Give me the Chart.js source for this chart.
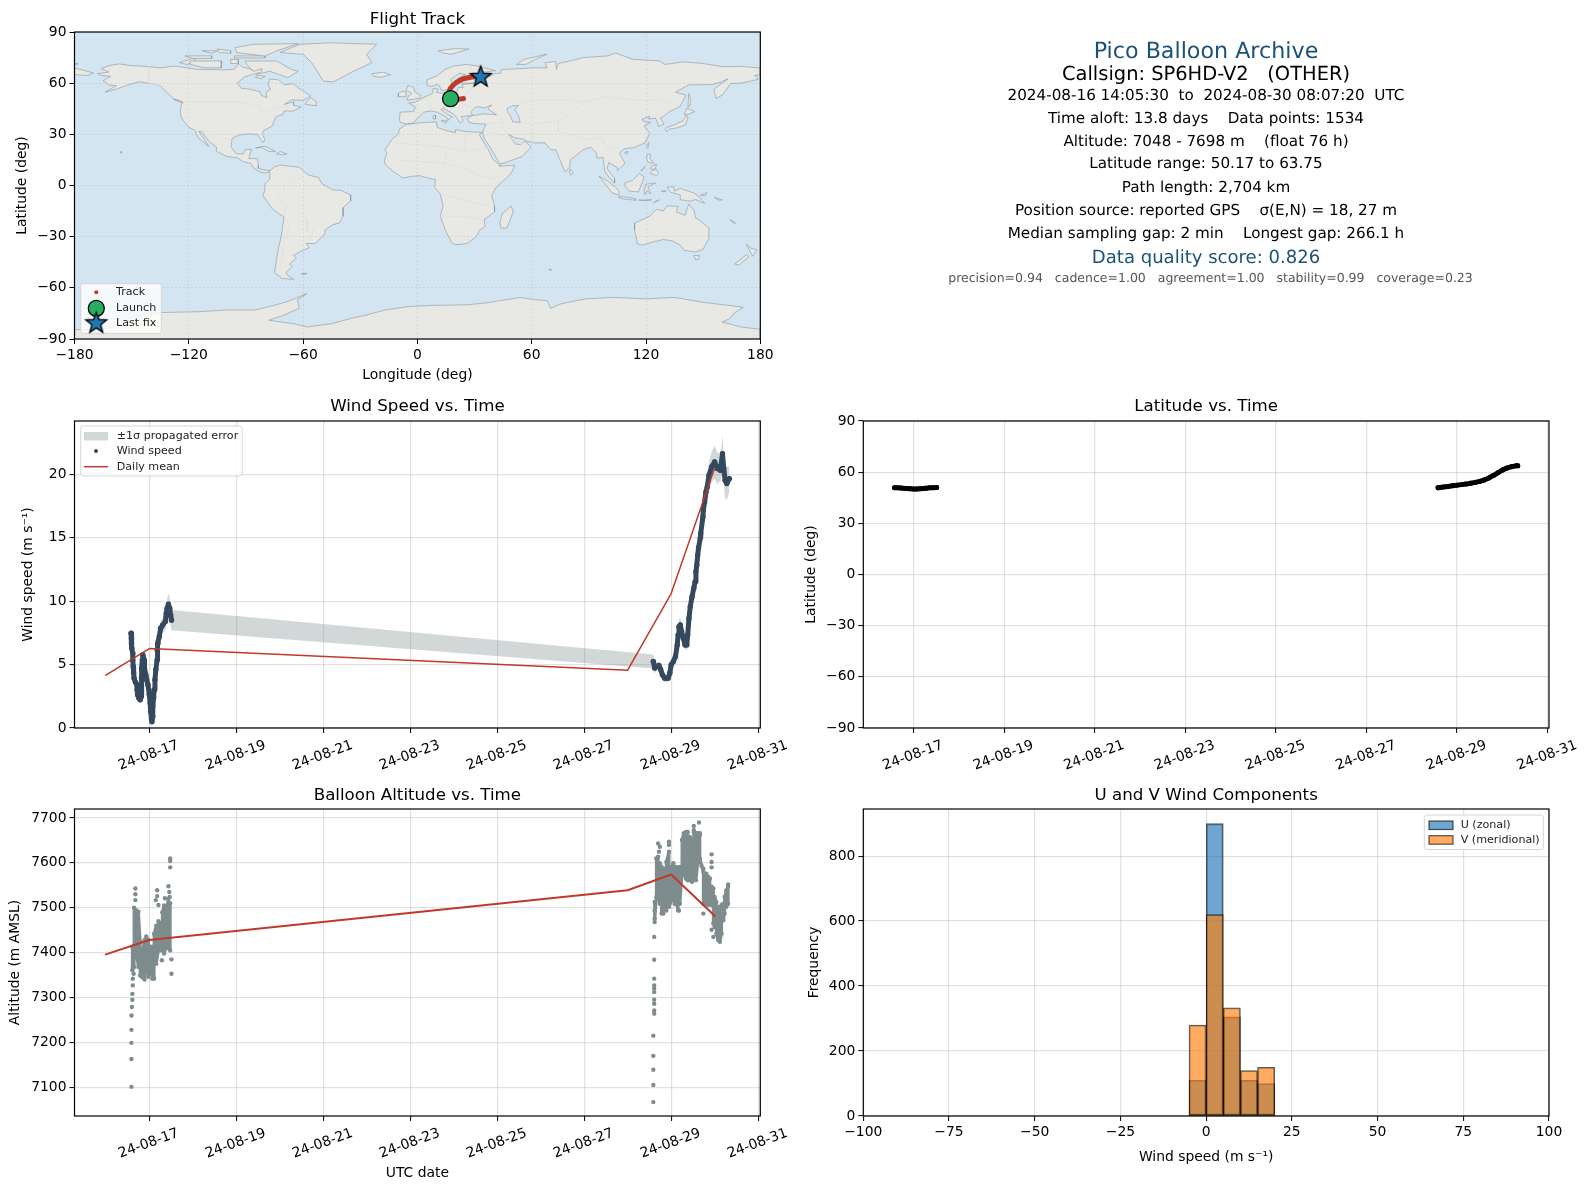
<!DOCTYPE html>
<html>
<head>
<meta charset="utf-8">
<title>Pico Balloon Archive</title>
<script src="https://cdn.jsdelivr.net/npm/chart.js@4/dist/chart.umd.js"></script>
<style>
html, body { margin: 0; padding: 0; background: #fff; }
body { width: 1589px; height: 1189px; position: relative; overflow: hidden; font-family: "DejaVu Sans", sans-serif; }
canvas { position: absolute; }
.line { position: absolute; left: 790px; width: 832px; text-align: center; white-space: pre; line-height: 24px; height: 24px; color: #000; text-rendering: geometricPrecision; }
</style>
</head>
<body>
<script>
// time axis is days of August 2024, 17 = 24-08-17 00:00
var dateTicks = [17, 19, 21, 23, 25, 27, 29, 31];
var lonTicks = [-180, -120, -60, 0, 60, 120, 180];
var latTicks = [-90, -60, -30, 0, 30, 60, 90];
var speedTicks = [0, 5, 10, 15, 20];
var altTicks = [7100, 7200, 7300, 7400, 7500, 7600, 7700];
var histXTicks = [-100, -75, -50, -25, 0, 25, 50, 75, 100];
var histYTicks = [0, 200, 400, 600, 800];

var meanDays = [16, 17, 28, 29, 30];
var meanSpeed = [4.17, 6.26, 4.56, 10.6, 20.5];
var meanAlt = [7396, 7428, 7539, 7574, 7482];

var windDaysA = [16.58,16.59,16.59,16.60,16.62,16.62,16.63,16.64,16.65,16.68,
    16.71,16.72,16.73,16.76,16.79,16.81,16.82,16.82,16.83,16.84,
    16.85,16.88,16.89,16.92,16.94,16.97,17.00,17.02,17.03,17.05,
    17.06,17.08,17.08,17.10,17.11,17.13,17.15,17.18,17.18,17.20,
    17.23,17.26,17.31,17.37,17.39,17.41,17.44,17.47,17.49,17.51];
var windSpeedA = [7.47,7.08,6.68,6.29,5.90,5.37,4.85,4.33,3.93,3.62,
    3.46,3.01,2.62,2.36,2.23,2.49,3.28,3.93,4.72,5.37,
    5.77,5.37,4.72,4.19,3.80,3.41,2.62,1.97,1.31,0.75,
    0.50,0.92,1.70,2.36,3.01,3.80,4.59,5.37,6.16,6.68,
    7.21,7.86,8.13,8.39,9.04,9.44,9.75,9.44,8.91,8.50];
var windSigmaA = [0.80,0.70,0.50,0.40,0.40,0.35,0.35,0.30,0.30,0.30,
    0.30,0.30,0.30,0.30,0.30,0.30,0.30,0.30,0.35,0.40,
    0.40,0.35,0.35,0.30,0.30,0.30,0.30,0.35,0.40,0.40,
    0.40,0.40,0.40,0.40,0.35,0.30,0.30,0.35,0.40,0.45,
    0.55,0.50,0.60,0.70,0.70,0.75,0.85,0.80,0.80,0.80];
var windDaysB = [28.59,28.62,28.66,28.72,28.76,28.80,28.85,28.93,28.97,29.00,
    29.05,29.10,29.14,29.16,29.18,29.21,29.24,29.28,29.32,29.36,
    29.38,29.41,29.44,29.48,29.52,29.55,29.57,29.59,29.61,29.63,
    29.67,29.68,29.73,29.74,29.77,29.80,29.83,29.87,29.93,30.00,
    30.06,30.10,30.13,30.18,30.21,30.24,30.28,30.34];
var windSpeedB = [5.24,4.72,4.85,4.93,4.59,4.19,3.93,3.93,4.33,4.98,
    5.24,5.64,6.55,7.34,7.99,8.13,7.60,7.08,6.55,6.55,
    7.34,8.65,9.57,10.35,11.01,11.53,12.32,12.84,13.63,14.21,
    14.99,15.33,16.64,17.17,17.82,18.61,19.00,19.92,20.58,20.97,
    20.45,20.58,20.31,21.62,20.45,19.53,19.27,19.66];
var windSigmaB = [0.55,0.40,0.35,0.30,0.30,0.30,0.30,0.30,0.30,0.30,
    0.30,0.35,0.40,0.50,0.60,0.60,0.50,0.40,0.40,0.40,
    0.40,0.45,0.45,0.45,0.45,0.50,0.50,0.55,0.55,0.60,
    0.65,0.65,0.70,0.75,0.80,0.85,0.90,1.00,1.20,1.30,
    1.30,1.10,1.00,1.40,1.20,1.40,1.30,1.00];

var latDaysA = [16.58,16.65,16.72,16.79,16.86,16.93,17.00,17.07,17.14,17.21,17.28,17.35,17.42,17.51];
var latValsA = [50.9,50.8,50.7,50.5,50.4,50.3,50.2,50.2,50.3,50.4,50.6,50.8,50.9,51.0];
var latDaysB = [28.58,28.7,28.8,28.9,29.0,29.1,29.2,29.3,29.4,29.5,29.6,29.7,29.8,29.9,30.0,30.1,30.2,30.3,30.34];
var latValsB = [50.9,51.3,51.6,52.0,52.4,52.7,53.0,53.5,54.0,54.6,55.4,56.6,58.0,59.6,61.2,62.4,63.2,63.7,63.75];

// altitude fixes in time order, dense part of each day
var altDaysA = [16.61,16.61,16.65,16.65,16.70,16.70,16.75,16.75,16.79,16.79,
    16.84,16.84,16.89,16.89,16.93,16.93,16.98,16.98,17.02,17.02,
    17.07,17.07,17.11,17.11,17.16,17.16,17.21,17.21,17.25,17.25,
    17.30,17.30,17.34,17.34,17.39,17.39,17.44,17.44,17.48,17.48];
var altValsA = [7413,7361,7368,7500,7494,7398,7368,7491,7424,7349,
    7345,7398,7428,7340,7368,7436,7428,7346,7353,7413,
    7413,7342,7342,7442,7460,7375,7405,7470,7465,7405,
    7405,7490,7505,7398,7413,7495,7520,7410,7405,7510];
var altDaysB = [28.62,28.62,28.66,28.66,28.70,28.70,28.74,28.74,28.78,28.78,
    28.82,28.82,28.85,28.85,28.89,28.89,28.95,28.95,29.01,29.01,
    29.05,29.05,29.08,29.08,29.12,29.12,29.16,29.16,29.20,29.20,
    29.25,29.25,29.29,29.29,29.34,29.34,29.38,29.38,29.43,29.43,
    29.48,29.48,29.52,29.52,29.57,29.57,29.61,29.61,29.66,29.66,
    29.74,29.74,29.77,29.77,29.81,29.81,29.85,29.85,29.89,29.89,
    29.93,29.93,29.97,29.97,30.00,30.00,30.04,30.04,30.08,30.08,
    30.12,30.12,30.16,30.16,30.20,30.20,30.23,30.23,30.27,30.27,
    30.31,30.31];
var altValsB = [7513,7468,7524,7610,7614,7524,7509,7599,7591,7487,
    7487,7584,7587,7502,7494,7602,7625,7502,7517,7591,
    7599,7532,7509,7584,7591,7509,7494,7584,7591,7509,
    7576,7651,7666,7576,7565,7669,7669,7561,7561,7658,
    7651,7558,7569,7673,7666,7561,7599,7666,7662,7610,
    7580,7509,7524,7576,7576,7509,7506,7569,7565,7513,
    7506,7547,7543,7465,7457,7524,7513,7442,7428,7502,
    7502,7424,7442,7506,7509,7472,7487,7524,7539,7502,
    7509,7547];
// scattered fixes around the dense part
var altOutDays = [16.59,16.59,16.59,16.59,16.59,16.60,16.61,16.61,16.62,16.62,16.64,16.68,16.68,16.68,
    17.48,17.48,17.48,17.51,17.51,17.44,17.18,17.18,17.15,17.21,17.29,17.36,17.46,17.47,
    28.61,28.61,28.61,28.61,28.61,28.61,28.61,28.61,28.61,28.61,28.59,28.59,28.59,28.59,28.59,28.62,28.62,
    29.64,29.52,29.52,29.66,29.93,29.93,29.93,28.70,28.74,28.72,28.95,28.95,29.74,29.97,30.31,29.93,29.18,29.70,29.74];
var altOutVals = [7228,7199,7163,7101,7260,7279,7295,7308,7327,7342,7353,7543,7530,7517,
    7610,7604,7590,7385,7353,7548,7539,7526,7517,7506,7383,7521,7535,7524,
    7435,7384,7342,7327,7320,7312,7295,7286,7271,7264,7215,7170,7139,7105,7067,7476,7494,
    7690,7682,7669,7666,7619,7602,7590,7643,7636,7625,7647,7640,7487,7435,7552,7451,7494,7593,7587];

var binCentres = [-2.5, 2.5, 7.5, 12.5, 17.5];
var uCounts = [110, 900, 305, 110, 100];
var vCounts = [280, 620, 333, 140, 150];

var trackLonA = [17.4, 19, 21, 23, 24.2];
var trackLatA = [50.9, 50.5, 50.5, 50.8, 51];
var trackLonB = [15.5, 15.8, 16.5, 17.2, 18.5, 20, 22, 24.2, 26.5, 28.6, 31, 33.2];
var trackLatB = [51, 52.5, 54.5, 56.7, 58.5, 60, 61.5, 62.6, 63.2, 63.6, 63.7, 63.75];
var launchFix = [17.4, 50.9];
var lastFix = [33.2, 63.6];

var northAmerica = [[-156.6,71.3],[-151,70.4],[-141,69.7],[-135,69],[-128,70],[-124,69.5],[-115,68],[-108,68],[-102,67.8],[-96,68.2],[-94,71.5],[-92,69.5],[-88,68.5],[-86,67],[-81.5,68.5],[-82,66.5],[-87,65],[-91,63.5],[-94.5,60],[-92.5,57],[-88,56.5],[-82.5,55],[-82,52.9],[-79,51.5],[-79.5,54.5],[-77,56.5],[-78.5,59],[-77.5,62.4],[-73,62],[-69.5,59],[-65.5,59.8],[-61.5,56.5],[-56,52.5],[-60,50],[-66,50.2],[-70,47.5],[-65,49],[-65,47],[-61,46],[-65.5,43.6],[-70,43.7],[-70.5,41.7],[-74,40.5],[-75.5,37.5],[-76,35],[-81,32],[-81.3,30],[-80,26.8],[-81,25.2],[-82.8,28],[-84,30],[-89,30.3],[-94,29.5],[-97.3,27.5],[-97.8,22.5],[-95,18.5],[-91.5,18.5],[-90.5,21],[-87,21.3],[-88.3,17],[-88.5,15.8],[-84,15.8],[-83.5,12],[-83.5,10],[-80,9],[-77.5,8.7],[-78.2,7.7],[-80.4,7.3],[-83,8.2],[-85.7,10],[-87.5,13],[-91.5,14],[-94.5,16.2],[-100,17],[-105.5,20],[-105.5,22.5],[-109.5,26],[-113,31.2],[-114.8,31.8],[-112.5,28],[-109.5,23],[-112,25],[-115,28],[-117,32.5],[-120.5,34.5],[-124,40],[-124.5,43],[-124,47],[-123,49],[-128,51],[-132,55],[-135,58.5],[-140,59.8],[-146,60.8],[-152,59],[-158,56.5],[-164,54.7],[-158,58.5],[-162,59],[-165,61.5],[-161,64],[-166,64.5],[-168,65.5],[-162,66.5],[-166,68.5],[-162,70.2],[-156.6,71.3]];
var southAmerica = [[-77.5,8.6],[-75,11],[-72,12],[-68,11.5],[-62,10.7],[-60,8.5],[-57,6],[-52,4.8],[-50,1],[-44.5,-2.5],[-40,-2.9],[-35.2,-5.5],[-35,-9],[-39,-13],[-39,-18],[-41,-22],[-44.5,-23],[-48.5,-26],[-48.7,-28.5],[-53.5,-34],[-58.4,-34],[-56.8,-36.5],[-62,-39],[-65,-41],[-63.5,-42.5],[-67,-46],[-65.7,-47.5],[-69,-51],[-68.3,-52.5],[-65,-55],[-71,-54.5],[-75,-51],[-74,-44],[-73,-37],[-71.5,-30],[-70,-18.5],[-76,-14],[-81,-6],[-80,-2.5],[-80,1],[-77.5,3.5],[-77.5,8.6]];
var africa = [[-6,35.8],[3,36.9],[10,37.3],[10.5,34],[15,32.3],[20,31],[20,32.8],[25,31.7],[32,31.2],[34.3,31.2],[32.5,29.8],[35.5,24],[37.3,21],[39.5,15.5],[43.3,12],[43.3,11.3],[51.2,11.9],[49,6.8],[41,-1.5],[39,-6],[40.5,-12],[40.5,-15.5],[35,-20],[35.5,-24],[32.8,-26],[31,-30],[26,-34],[20,-34.8],[18.3,-33.8],[15,-27],[12,-18],[13.5,-12],[12,-5],[9,-1],[9.5,3.5],[6,4.3],[1,5.8],[-4,5.2],[-7.7,4.4],[-13,8.5],[-17,12.5],[-17.3,14.7],[-16,19],[-17,21],[-13,27.5],[-10,30],[-9.5,33],[-6,35.8]];
var eurasia = [[-9,37],[-9.5,38.8],[-9,43],[-2,43.4],[-1,46],[-4.5,48.4],[-1.5,48.7],[1.5,50.5],[4,52],[8,54],[8.3,57],[10.8,56.5],[10,54.5],[14,54],[19,54.5],[21,55.5],[21.5,57.5],[24,57.3],[23.5,59.2],[30,60],[23,60],[21.5,61],[21.5,63],[25.3,65],[22,65.8],[17.5,62.3],[18,60],[16.5,56.5],[14.5,56],[12.8,55.5],[11.5,58.5],[10.5,59.3],[7,58],[5,59],[5,62],[10,64],[14.5,68],[19,70],[25.5,71],[31,70.2],[41,67.3],[35,66.5],[33,66.7],[34.8,64.5],[38,64],[40.5,65.5],[44,66],[44,68],[54,68.5],[60,69],[68,69],[67,72],[72.5,72.8],[73,68],[74,71.5],[80,73],[87,75],[100,76],[104,77.7],[113,74],[127,73],[130,71],[140,72.5],[150,71.5],[160,69.7],[170,69.8],[180,68.9],[180,65],[177,64.5],[179,62.3],[170,60],[164.5,59.8],[162,56],[160,53],[156.8,51],[155.6,56.5],[163,62.5],[160,61],[155,59.2],[142.5,59],[135.5,54.7],[141,53],[138,46.5],[132,43],[129.5,40.8],[127.5,39.5],[129.4,36],[126.5,34.5],[126,37],[125,39.5],[121.5,39],[122,40.6],[118,39],[119,37.3],[122.5,37],[119,35],[122,30.5],[119.5,25],[114,22.3],[108.5,21.5],[106,19],[109,13],[105,8.7],[105,10.5],[100.5,13.5],[99.5,10],[103.5,4],[103.5,1.4],[100.5,5],[98.3,8.5],[97.5,16.5],[94.3,16],[94,19],[91,22.5],[87,21],[80.3,15],[80,11],[77.5,8],[73,20],[72.5,21],[70,21],[67,25],[61.5,25],[57,26],[56.3,27],[51,28],[48,30],[51,25],[51.5,24.3],[54,24],[56.5,26],[59.7,22.5],[55,17],[45,13],[43.2,12.7],[39,21],[34.8,28],[34.9,29.5],[34,31],[36,36],[30,36.3],[27,37],[26.3,39.5],[29,41],[35,42],[41.5,41.5],[37,45],[39,47.2],[35,45.5],[33,46],[30.5,46],[28,43],[29,41.2],[26,40.8],[23,40.5],[24,38],[22.5,36.5],[19.5,41.5],[13.5,45.5],[12.3,44.5],[16,41.5],[18.5,40.2],[16.5,39],[16,38],[15.5,40],[10.5,43],[7,43.7],[3.2,43],[0,39.5],[-2,36.8],[-5.5,36],[-9,37]];
var antarctica = [[-180,-90],[-180,-84.5],[-165,-84.5],[-155,-81],[-150,-77],[-135,-74.5],[-115,-74],[-100,-73],[-85,-73],[-76,-70.5],[-68,-68],[-58,-63.3],[-63,-67],[-62,-72],[-70,-76],[-78,-79],[-65,-81],[-58,-83],[-45,-81],[-35,-78],[-27,-76],[-17,-73],[-5,-71],[8,-70.3],[25,-70],[35,-69],[54,-65.7],[62,-67],[68,-67.5],[70,-72],[75,-69.5],[88,-66.5],[103,-65.6],[120,-66.5],[135,-65.6],[150,-68.5],[165,-70.5],[171,-71.5],[166,-75],[164,-78],[160,-80],[170,-83],[180,-84.3],[180,-90]];
var australia = [[114,-22],[114,-26],[115.5,-34.3],[118,-35],[124,-33],[129,-31.7],[134,-32.5],[138,-35],[140,-38],[146,-39],[150,-37.3],[153,-31],[153,-25],[149,-21],[146,-19],[145.3,-15],[142.5,-10.8],[141.5,-14],[140.5,-17.5],[136,-15.5],[136.8,-12.2],[131,-12],[129,-15],[125.5,-14],[122,-18],[114,-22]];
var islands = [
    [[-72,78],[-61.6,82.8],[-45.8,83.7],[-21.4,82.8],[-26.6,76.9],[-24,72],[-33.6,67],[-44,60.8],[-49.4,61.2],[-53.7,69],[-55.5,72],[-59.9,76.9],[-72,78]],
    [[-90.5,73],[-73.9,73],[-66,68],[-62.5,67],[-68,63.2],[-77.4,67],[-84.4,65.2],[-89.6,71],[-90.5,73]],
    [[-95.7,80.8],[-86,82.8],[-62.5,83.2],[-73.9,78.9],[-80,75.9],[-94.8,77.9],[-95.7,80.8]],
    [[-119.3,73],[-102.7,73],[-103,69],[-112,69],[-119,71],[-119.3,73]],
    [[-125,72],[-118,74.5],[-116,73],[-121,71],[-125,72]],
    [[-96,76],[-80,76],[-80,74.8],[-96,74.8],[-96,76]],
    [[-122,76],[-108,76],[-108,74.5],[-118,74.5],[-122,76]],
    [[-113,79],[-105,79],[-108,77.5],[-113,79]],
    [[-105,80],[-98,79],[-98,77.5],[-104,78],[-105,80]],
    [[-98,74],[-94,74],[-94,71.5],[-98,71.5],[-98,74]],
    [[-84.5,64.5],[-80,64],[-82,62.5],[-85,63.5],[-84.5,64.5]],
    [[-59,47.7],[-53,46.7],[-53,49],[-56,51.5],[-59,47.7]],
    [[-128,50.5],[-123.5,48.4],[-125,50],[-128,50.5]],
    [[-85,22],[-80,23],[-74.5,20],[-78,20],[-82,22.5],[-85,22]],
    [[-74,18.5],[-72,20],[-68.5,18.5],[-71,18],[-74,18.5]],
    [[-156,20],[-155,19.5],[-155.8,19],[-156,20]],
    [[-61,-51.8],[-58,-51.4],[-59,-52.3],[-61,-51.8]],
    [[-5.5,50],[1.3,51.2],[1.7,52.7],[-1.5,55],[-2,57.6],[-5,58.6],[-6,56],[-3,54],[-5,52],[-5.5,50]],
    [[-10,52],[-6,52.2],[-6,55],[-8,55.2],[-10,54],[-10,52]],
    [[-24,65.5],[-18,66.4],[-14,65],[-19,63.4],[-23,64],[-24,65.5]],
    [[11,79],[20,80.3],[27,80],[18,77],[14,77.5],[11,79]],
    [[52,71],[56,74],[68,77],[62,74],[57,71],[52,71]],
    [[12.5,38],[15.5,38],[15,36.7],[12.5,38]],
    [[8.3,41],[9.7,41],[9.5,39],[8.5,39],[8.3,41]],
    [[130.8,34],[135,35.6],[139.5,38],[141.3,41.3],[142,39.5],[140.7,35.5],[136,33.7],[132,33],[130.8,31.5],[130,33],[130.8,34]],
    [[140,41.5],[141.5,45.4],[145.5,43.3],[143,42],[140,41.5]],
    [[142,46],[142.5,54],[143.5,50],[143,46.5],[142,46]],
    [[120,23],[121.5,25.2],[121,22],[120,23]],
    [[108.7,19.3],[110.5,20],[110,18.3],[108.7,19.3]],
    [[79.7,8.2],[80,9.8],[81.8,7.5],[80.5,6],[79.7,8.2]],
    [[120.3,16],[120.8,18.5],[122.3,18.3],[122,16],[124,13],[121,13.7],[120.3,16]],
    [[122,7],[123.5,8.7],[125.5,9.5],[126.5,7],[125.5,5.7],[124,6.5],[122,7]],
    [[117.3,8.4],[119.5,11.3],[118.5,9.3],[117.3,8.4]],
    [[122,10],[123.5,11.5],[125.5,12.5],[125,10],[123,9.5],[122,10]],
    [[95.3,5.5],[100,2.5],[104,-1],[106,-3.5],[105.8,-5.8],[102,-4],[98.5,1],[95.3,5.5]],
    [[105.3,-6.8],[108,-6.5],[114.5,-7.8],[114.5,-8.7],[108,-7.8],[105.3,-6.8]],
    [[109,1.5],[113,3],[116.5,7],[119,5],[117.8,1],[116,-3.8],[111,-3.2],[109,-0.3],[109,1.5]],
    [[119.5,-5.5],[119,-3],[120,0.8],[125,1.5],[121,-0.8],[122.5,-5],[120.5,-3],[119.5,-5.5]],
    [[131,-1],[134.5,-0.8],[135,-3.3],[138,-1.7],[145,-4.3],[147.8,-6.5],[150.8,-10.5],[146,-8.2],[143,-9.2],[138,-8.3],[138,-5.5],[133,-4],[131,-1]],
    [[124,-10],[127,-8.4],[125,-9.5],[124,-10]],
    [[116,-8.5],[119,-8.5],[123,-8.4],[119,-8.9],[116,-8.5]],
    [[148.5,-5.8],[152,-4.2],[151,-6],[148.5,-5.8]],
    [[156,-7],[160,-8.5],[158,-8.5],[156,-7]],
    [[128,-3.2],[130.5,-3.3],[129,-3.6],[128,-3.2]],
    [[145,-41],[148,-41],[147.5,-43.3],[146,-43.5],[145,-41]],
    [[172.8,-34.5],[175.5,-37],[178.3,-37.7],[176,-41.5],[174.8,-39],[172.8,-34.5]],
    [[172.7,-40.6],[174,-41.8],[171,-44.5],[169,-46.6],[166.5,-46],[172.7,-40.6]],
    [[49.3,-12],[50.3,-15.5],[47,-25],[44,-25],[43.3,-22],[44.5,-16.5],[49.3,-12]],
    [[164,-20],[167,-22],[166,-22],[164,-20]],
    [[69,-49],[70.5,-49.5],[69.5,-49.7],[69,-49]],
    [[-180,68.9],[-175,67.5],[-170,66],[-173,64.5],[-180,65],[-180,68.9]],
    [[-180,71.5],[-178,71.3],[-180,70.9],[-180,71.5]]
];
var caspian = [[50,46.8],[53,46.8],[51,44.5],[53,41],[54,37],[50,37.3],[49,40.5],[47.5,43],[47,45],[50,46.8]];
var borders = [
    [[-123,49],[-95,49],[-88,48],[-83,46],[-82,43],[-79,43],[-75,45],[-70,46],[-67.5,47],[-67,45]],
    [[-141,69.7],[-141,60],[-135,58.7]],
    [[-117,32.5],[-106.5,31.8],[-103,29],[-97.5,26]],
    [[-70,-18],[-69,-11],[-74,-7],[-70,-4],[-70,1],[-67,2],[-60,5]],
    [[-58,-20],[-58,-27],[-54,-26],[-58,-34]],
    [[-70,-18],[-67,-23],[-70,-33],[-72,-50]],
    [[-12,25],[12,23],[25,20],[25,31]],
    [[25,20],[37,22]],
    [[-12,15],[15,13],[24,10],[35,5],[41,4]],
    [[12,-5],[30,-10],[38,-12]],
    [[12,-18],[25,-18],[35,-20]],
    [[15,13],[15,23]],
    [[9,5],[15,13]],
    [[28,70],[30,60],[28,56],[24,52],[24,48],[29,45]],
    [[50,46],[60,50],[80,50],[88,49],[98,52],[115,50],[127,50],[135,48],[131,43]],
    [[88,49],[80,42],[74,38],[61,36],[54,37]],
    [[74,38],[74,32],[80,30],[88,27],[97,28],[99,22],[106,22]],
    [[61,25],[61,36]],
    [[44,39],[45,33],[48,30]],
    [[36,36],[44,37]],
    [[35,32],[46,29],[56,24]],
    [[-2,43],[3,42.5]],
    [[8,54],[6,49],[7,44]],
    [[14,54],[15,48],[13,46]]
];

var infoLines = [
    ["Pico Balloon Archive", 50.7, 22.22, "#1a5276", 0],
    ["Callsign: SP6HD-V2   (OTHER)", 74, 19.44, "#000", 0],
    ["2024-08-16 14:05:30  to  2024-08-30 08:07:20  UTC", 95.2, 15.2, "#000", 0],
    ["Time aloft: 13.8 days    Data points: 1534", 117.5, 15.2, "#000", 0],
    ["Altitude: 7048 - 7698 m    (float 76 h)", 140.9, 15.2, "#000", 0],
    ["Latitude range: 50.17 to 63.75", 163.2, 15.2, "#000", 0],
    ["Path length: 2,704 km", 186.5, 15.2, "#000", 0],
    ["Position source: reported GPS    σ(E,N) = 18, 27 m", 209.8, 15.2, "#000", 0],
    ["Median sampling gap: 2 min    Longest gap: 266.1 h", 233, 15.2, "#000", 0],
    ["Data quality score: 0.826", 258.4, 18.06, "#1a5276", 0],
    ["precision=0.94   cadence=1.00   agreement=1.00   stability=0.99   coverage=0.23", 277.7, 12.5, "#555", 4.5]
];

Chart.defaults.font.family = '"DejaVu Sans", sans-serif';
Chart.defaults.color = '#000';

var RED = '#c0392b', NAVY = '#34495e', GREY = '#7f8c8d', GREEN = '#27ae60', BLUE = '#1f77b4';
var TICK_SIZE = 13.89, GRID = 'rgba(176,176,176,0.38)';
var BAND = 'rgba(127,140,141,0.35)';

function pts(xs, ys) {
    return xs.map(function (x, i) { return {x: x, y: ys[i]}; });
}
function lonlat(poly) {
    return poly.map(function (p) { return {x: p[0], y: p[1]}; });
}
function dayLabel(v) { return '24-08-' + v; }
function minusLabel(v) { return String(v).replace('-', '\u2212'); }

function starCanvas(r) {
    var c = document.createElement('canvas');
    c.width = c.height = 2 * r + 4;
    var g = c.getContext('2d');
    g.beginPath();
    for (var i = 0; i < 10; i++) {
        var a = -Math.PI / 2 + i * Math.PI / 5;
        var rr = i % 2 ? r * 0.42 : r;
        g.lineTo(r + 2 + rr * Math.cos(a), r + 2 + rr * Math.sin(a));
    }
    g.closePath();
    g.fillStyle = BLUE;
    g.fill();
    g.lineWidth = 1.3;
    g.strokeStyle = '#000';
    g.stroke();
    return c;
}

// ocean fill, closed frame and the boxed legend
var panelPlugin = {
    id: 'panel',
    beforeDatasetsDraw: function (chart, args, opts) {
        if (!opts.ocean) return;
        var a = chart.chartArea, g = chart.ctx;
        g.save();
        g.globalCompositeOperation = 'destination-over';
        g.fillStyle = opts.ocean;
        g.fillRect(a.left, a.top, a.right - a.left, a.bottom - a.top);
        g.restore();
    },
    afterDraw: function (chart, args, opts) {
        var a = chart.chartArea, g = chart.ctx;
        g.save();
        g.strokeStyle = '#000';
        g.lineWidth = 1.2;
        g.strokeRect(a.left, a.top, a.right - a.left, a.bottom - a.top);
        var box = opts.box;
        if (box) {
            g.beginPath();
            g.roundRect(box[0], box[1], box[2], box[3], 2.5);
            g.fillStyle = 'rgba(255,255,255,0.8)';
            g.fill();
            g.strokeStyle = '#d6d6d6';
            g.lineWidth = 1;
            g.stroke();
            opts.rows.forEach(function (r) {
                var s = opts.swatchX;
                if (r.kind == 'patch') {
                    g.fillStyle = r.fill;
                    g.fillRect(s, r.y - 4, 24, 8.5);
                    if (r.edge) { g.strokeStyle = r.edge; g.lineWidth = 1.2; g.strokeRect(s, r.y - 4, 24, 8.5); }
                } else if (r.kind == 'line') {
                    g.strokeStyle = r.color; g.lineWidth = 1.5;
                    g.beginPath(); g.moveTo(s, r.y); g.lineTo(s + 24, r.y); g.stroke();
                } else if (r.kind == 'dot' || r.kind == 'circle') {
                    g.fillStyle = r.color;
                    g.beginPath(); g.arc(s + 12, r.y, r.kind == 'dot' ? 2 : 8, 0, Math.PI * 2); g.fill();
                    if (r.kind == 'circle') { g.strokeStyle = '#000'; g.lineWidth = 1.3; g.stroke(); }
                } else if (r.kind == 'star') {
                    g.drawImage(r.img, s + 12 - r.img.width / 2, r.y - r.img.height / 2);
                }
                g.fillStyle = '#222';
                g.font = '11.11px "DejaVu Sans", sans-serif';
                g.textAlign = 'left';
                g.textBaseline = 'middle';
                g.fillText(r.text, opts.textX, r.y);
            });
        }
        g.restore();
    }
};
Chart.register(panelPlugin);

function panel(cfg) {
    var boxL = cfg.area[0], boxT = cfg.area[1], boxR = cfg.area[2], boxB = cfg.area[3];
    var c = document.createElement('canvas');
    var w = cfg.left == 0 ? 800 : 799;
    var under = cfg.under;
    c.width = w;
    c.height = Math.round(boxB - boxT + 30 + under);
    c.style.left = cfg.left + 'px';
    c.style.top = (boxT - 30) + 'px';
    document.body.appendChild(c);

    var legend = cfg.legend || {};
    var shift = function (v, o) { return v - o; };
    var plugOpts = {ocean: cfg.ocean};
    if (legend.box) {
        plugOpts.box = [shift(legend.box[0], cfg.left), shift(legend.box[1], boxT - 30), legend.box[2], legend.box[3]];
        plugOpts.swatchX = shift(legend.swatchX, cfg.left);
        plugOpts.textX = shift(legend.textX, cfg.left);
        plugOpts.rows = legend.rows.map(function (r) {
            var o = Object.assign({}, r);
            o.y = shift(r.y, boxT - 30);
            return o;
        });
    }
    var nudge = cfg.titleNudge || 0;
    var gridOpts = {color: cfg.gridColor || GRID, lineWidth: cfg.gridWidth || 1.2, tickLength: 5, tickColor: '#000', tickWidth: 1, z: cfg.gridZ || 0};
    return new Chart(c, {
        type: cfg.type || 'line',
        data: {datasets: cfg.datasets},
        plugins: [],
        options: {
            responsive: false,
            animation: false,
            devicePixelRatio: 1,
            events: [],
            layout: {padding: {right: w - (boxR - cfg.left), left: 0, top: 0, bottom: 0}},
            plugins: {
                legend: {display: false},
                tooltip: {enabled: false},
                title: {display: true, fullSize: false, text: cfg.title, font: {size: 16.67, weight: 'normal', lineHeight: 1.2}, color: '#000', padding: {top: 6.5 + nudge, bottom: 3.5 - nudge}},
                panel: plugOpts
            },
            scales: {
                x: {
                    type: 'linear',
                    min: cfg.x.min, max: cfg.x.max,
                    offset: false,
                    afterBuildTicks: function (s) { s.ticks = cfg.x.ticks.map(function (v) { return {value: v}; }); },
                    afterFit: function (s) { s.height = under; },
                    grid: Object.assign({offset: false}, gridOpts),
                    border: {display: false, dash: cfg.dash},
                    ticks: {
                        autoSkip: false, font: {size: TICK_SIZE}, color: '#000',
                        maxRotation: cfg.x.rotate || 0, minRotation: cfg.x.rotate || 0,
                        labelOffset: cfg.x.labelOffset || 0, padding: cfg.x.padding === undefined ? 3 : cfg.x.padding,
                        callback: cfg.x.label
                    },
                    title: cfg.x.title ? {display: true, text: cfg.x.title, font: {size: 13.89, lineHeight: 1.2}, color: '#000', padding: {top: 0, bottom: cfg.x.titlePad}} : {display: false}
                },
                y: {
                    min: cfg.y.min, max: cfg.y.max,
                    afterBuildTicks: function (s) { s.ticks = cfg.y.ticks.map(function (v) { return {value: v}; }); },
                    afterFit: function (s) { s.width = boxL - cfg.left; },
                    grid: gridOpts,
                    border: {display: false, dash: cfg.dash},
                    ticks: {font: {size: TICK_SIZE}, color: '#000', padding: 3, callback: minusLabel},
                    title: {display: true, text: cfg.y.title, font: {size: 13.89, lineHeight: 1.2}, color: '#000', padding: {top: cfg.y.titlePad, bottom: 0}}
                }
            }
        }
    });
}

function dots(data, color, r) {
    return {data: data, showLine: false, pointRadius: r, pointBackgroundColor: color, pointBorderWidth: 0};
}
function trace(data, color, width, r) {
    return {data: data, borderColor: color, borderWidth: width, borderJoinStyle: 'round', borderCapStyle: 'round', tension: 0, pointRadius: r, pointBackgroundColor: color, pointBorderWidth: 0};
}

// ---- map
var landPolys = [northAmerica, southAmerica, africa, eurasia, antarctica, australia].concat(islands);
var mapSets = [
    {data: [{x: lastFix[0], y: lastFix[1]}], showLine: false, pointStyle: starCanvas(11), pointRadius: 11},
    {data: [{x: launchFix[0], y: launchFix[1]}], showLine: false, pointRadius: 8, pointBackgroundColor: GREEN, pointBorderColor: '#000', pointBorderWidth: 1.3},
    trace(pts(trackLonB, trackLatB), RED, 5, 2),
    trace(pts(trackLonA, trackLatA), RED, 5, 2),
    {data: lonlat(caspian), fill: 'shape', backgroundColor: '#d3e5f1', borderColor: 'rgba(140,150,155,0.6)', borderWidth: 1, pointRadius: 0, tension: 0}
];
borders.forEach(function (b) {
    mapSets.push({data: lonlat(b), borderColor: '#dfdfdb', borderWidth: 0.8, pointRadius: 0, tension: 0});
});
landPolys.forEach(function (p) {
    mapSets.push({data: lonlat(p), fill: 'shape', backgroundColor: '#e8e8e4', borderColor: 'rgba(140,150,155,0.6)', borderWidth: 1, pointRadius: 0, tension: 0});
});
panel({
    left: 0, area: [74.5, 32, 760.3, 338.5], under: 50, title: 'Flight Track', titleNudge: 0.8,
    ocean: '#d3e5f1', gridColor: 'rgba(120,120,120,0.17)', gridWidth: 0.8, gridZ: 1, dash: [2, 2],
    x: {min: -180, max: 180, ticks: lonTicks, label: minusLabel, title: 'Longitude (deg)', titlePad: 5.5},
    y: {min: -90, max: 90, ticks: latTicks, title: 'Latitude (deg)', titlePad: 14.12},
    datasets: mapSets,
    legend: {
        box: [80.7, 283.7, 80.6, 49.6], swatchX: 84.3, textX: 116,
        rows: [
            {kind: 'dot', color: RED, y: 292.3, text: 'Track'},
            {kind: 'circle', color: GREEN, y: 308.3, text: 'Launch'},
            {kind: 'star', img: starCanvas(11), y: 323.3, text: 'Last fix'}
        ]
    }
});

// ---- wind speed
var bandDays = windDaysA.concat(windDaysB);
var bandSpeed = windSpeedA.concat(windSpeedB);
var bandSigma = windSigmaA.concat(windSigmaB);
var bandHigh = bandSpeed.map(function (v, i) { return v + bandSigma[i]; });
var bandLow = bandSpeed.map(function (v, i) { return v - bandSigma[i]; });
panel({
    left: 0, area: [74.5, 421, 760.3, 727.7], under: 60, title: 'Wind Speed vs. Time', titleNudge: -0.8,
    x: {min: 15.28, max: 31.05, ticks: dateTicks, label: dayLabel, rotate: 20, labelOffset: 29, padding: 4},
    y: {min: 0, max: 24.2, ticks: speedTicks, title: 'Wind speed (m s\u207B\u00B9)', titlePad: 19.82},
    datasets: [
        trace(pts(meanDays, meanSpeed), RED, 1.5, 0),
        trace(pts(windDaysA, windSpeedA), NAVY, 5, 2.7),
        trace(pts(windDaysB, windSpeedB), NAVY, 5, 2.7),
        {data: pts(bandDays, bandHigh), fill: '+1', backgroundColor: BAND, borderWidth: 0, pointRadius: 0, tension: 0},
        {data: pts(bandDays, bandLow), borderWidth: 0, pointRadius: 0, tension: 0}
    ],
    legend: {
        box: [80.7, 426, 161.5, 50], swatchX: 84, textX: 116.7,
        rows: [
            {kind: 'patch', fill: BAND, y: 436, text: '\u00B11\u03C3 propagated error'},
            {kind: 'dot', color: NAVY, y: 451, text: 'Wind speed'},
            {kind: 'line', color: RED, y: 466.7, text: 'Daily mean'}
        ]
    }
});

// ---- latitude
panel({
    left: 790, area: [863.3, 421, 1549, 727.7], under: 60, title: 'Latitude vs. Time', titleNudge: -0.8,
    x: {min: 15.89, max: 31.03, ticks: dateTicks, label: dayLabel, rotate: 20, labelOffset: 29, padding: 4},
    y: {min: -90, max: 90, ticks: latTicks, title: 'Latitude (deg)', titlePad: 12.82},
    datasets: [
        trace(pts(latDaysA, latValsA), '#000', 5, 2.5),
        trace(pts(latDaysB, latValsB), '#000', 5, 2.5)
    ]
});

// ---- altitude
panel({
    left: 0, area: [74.5, 809, 760.3, 1116], under: 70, title: 'Balloon Altitude vs. Time',
    x: {min: 15.28, max: 31.05, ticks: dateTicks, label: dayLabel, rotate: 20, labelOffset: 29, padding: 4, title: 'UTC date', titlePad: 4.2},
    y: {min: 7036, max: 7720, ticks: altTicks, title: 'Altitude (m AMSL)', titlePad: 7.02},
    datasets: [
        trace(pts(meanDays, meanAlt), RED, 2, 0),
        trace(pts(altDaysA, altValsA), GREY, 3, 2.2),
        trace(pts(altDaysB, altValsB), GREY, 3, 2.2),
        dots(pts(altOutDays, altOutVals), GREY, 2.2)
    ]
});

// ---- histogram
function bars(counts, fill, order) {
    return {data: pts(binCentres, counts), backgroundColor: fill, borderColor: 'rgba(0,0,0,0.65)', borderWidth: 1.2, borderSkipped: false, order: order, grouped: false, categoryPercentage: 1, barPercentage: 1};
}
panel({
    left: 790, area: [863.3, 809, 1549, 1116], under: 50, title: 'U and V Wind Components', type: 'bar',
    x: {min: -100, max: 100, ticks: histXTicks, label: minusLabel, title: 'Wind speed (m s\u207B\u00B9)', titlePad: 0.7},
    y: {min: 0, max: 945, ticks: histYTicks, title: 'Frequency', titlePad: 15.82},
    datasets: [bars(uCounts, 'rgba(31,119,180,0.65)', 2), bars(vCounts, 'rgba(255,127,14,0.65)', 1)],
    legend: {
        box: [1424.3, 815, 119, 34.5], swatchX: 1429, textX: 1460.7,
        rows: [
            {kind: 'patch', fill: 'rgba(31,119,180,0.65)', edge: 'rgba(0,0,0,0.65)', y: 825, text: 'U (zonal)'},
            {kind: 'patch', fill: 'rgba(255,127,14,0.65)', edge: 'rgba(0,0,0,0.65)', y: 839.7, text: 'V (meridional)'}
        ]
    }
});

// ---- text panel
infoLines.forEach(function (l) {
    var d = document.createElement('div');
    d.className = 'line';
    d.textContent = l[0];
    d.style.top = (l[1] - 12) + 'px';
    d.style.left = (790 + l[4]) + 'px';
    d.style.fontSize = l[2] + 'px';
    d.style.color = l[3];
    document.body.appendChild(d);
});
</script>
</body>
</html>
